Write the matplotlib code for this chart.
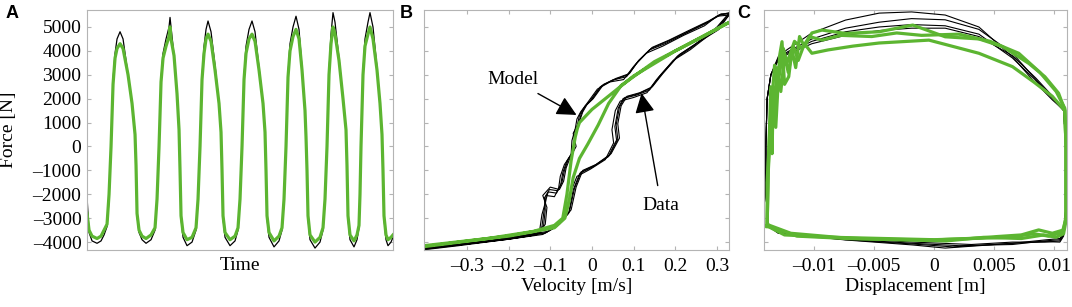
import numpy as np
import matplotlib.pyplot as plt

# ---- panel A: force vs time (time in arbitrary units) ----
t_a = [0, 2, 5, 10, 14, 17, 20, 22, 24, 26, 28, 30, 33, 36, 41, 45, 48, 49, 50, 52, 55, 59,
       64, 68, 70, 72, 74, 76, 79, 82, 83, 84, 87, 90, 92, 93, 94, 96, 100,
       105, 109, 111, 113, 115, 117, 119, 121, 124, 128, 132, 134, 135, 136, 138, 143,
       148, 151, 153, 155, 157, 159, 162, 165, 168, 172, 176, 178, 179, 180, 182, 187,
       192, 195, 197, 199, 201, 203, 206, 209, 212, 215, 218, 219, 220, 221, 223, 228,
       233, 236, 238, 240, 242, 244, 246, 248, 252, 256, 259, 260, 261, 263, 267,
       270, 272, 273, 274, 276, 278, 281, 283, 286, 290, 293, 295, 296, 297, 299, 301, 304, 306]
model_a = [-2800, -3500, -3750, -3850, -3750, -3500, -3250, -2000, 0, 2600, 3700, 4100, 4300, 4100, 3000, 1800, 500, -800, -2800, -3500, -3750, -3850,
           -3700, -3400, -2200, 0, 2700, 3700, 4200, 4600, 5000, 4500, 3800, 2200, 700, -1000, -2900, -3600, -3900,
           -3800, -3400, -2200, 0, 2800, 3900, 4500, 4700, 4400, 3200, 1800, 600, -1000, -2900, -3600, -3900,
           -3750, -3400, -2200, 0, 2800, 3900, 4500, 4700, 4400, 3200, 1800, 600, -1000, -2900, -3600, -3950,
           -3750, -3400, -2200, 0, 2900, 4000, 4600, 4900, 4500, 3200, 1500, 400, -1000, -2900, -3700, -4000,
           -3800, -3400, -2200, 0, 3000, 4300, 5000, 4700, 3600, 2000, 700, -800, -2900, -3700, -3950,
           -3700, -3300, -2000, 0, 3000, 4200, 4700, 5000, 4500, 3200, 1800, 500, -1000, -2900, -3700, -3900, -3800, -3700]
data_a = [-2100, -3600, -3950, -4050, -3950, -3700, -3350, -2200, 0, 2800, 3900, 4500, 4800, 4500, 3000, 1800, 600, -800, -2900, -3600, -3900, -4050,
          -3900, -3500, -2300, 0, 2800, 3900, 4500, 5000, 5400, 5000, 3800, 2200, 700, -1000, -3000, -3800, -4150,
          -4000, -3500, -2300, 0, 2900, 4200, 4900, 5250, 4800, 3400, 1800, 600, -1000, -3000, -3800, -4150,
          -3950, -3500, -2300, 0, 2900, 4200, 4900, 5250, 4800, 3300, 1800, 600, -1000, -3000, -3800, -4200,
          -3950, -3500, -2300, 0, 3000, 4300, 5000, 5450, 4900, 3300, 1500, 400, -1000, -3000, -3900, -4250,
          -4000, -3500, -2300, 0, 3100, 4700, 5600, 5200, 3700, 2000, 700, -800, -3000, -3900, -4200,
          -3900, -3400, -2100, 0, 3100, 4500, 5200, 5600, 5000, 3300, 1800, 500, -1000, -3000, -3900, -4150, -4000, -3800]

# ---- panel B: force vs velocity ----
vel_model = [-0.403, -0.25, -0.14, -0.09, -0.07, -0.06, -0.05, -0.04, -0.035, -0.03, 0.0, 0.10, 0.20, 0.33,
             0.25, 0.15, 0.07, 0.04, 0.015, -0.01, -0.03, -0.045, -0.055, -0.065, -0.09, -0.20, -0.403]
f_model_b = [-4190, -3850, -3550, -3300, -3000, -2000, -600, 400, 750, 1000, 1550, 2950, 4000, 5200,
             4450, 3550, 2550, 1800, 900, 100, -500, -1300, -2300, -3000, -3400, -3750, -4150]

vel_data = [
    [-0.403, -0.30, -0.20, -0.13, -0.12, -0.115, -0.11, -0.105, -0.085, -0.075, -0.07, -0.06, -0.045, -0.04, -0.035, -0.03, -0.02,
     -0.005, 0.02, 0.05, 0.083, 0.107, 0.138, 0.178, 0.226, 0.274, 0.305, 0.33,
     0.30, 0.242, 0.202, 0.162, 0.138, 0.107, 0.075, 0.063, 0.055, 0.059, 0.039, 0.003, -0.029, -0.045, -0.056,
     -0.085, -0.113, -0.197, -0.316, -0.403],
    [-0.403, -0.30, -0.20, -0.125, -0.112, -0.108, -0.118, -0.10, -0.078, -0.068, -0.062, -0.052, -0.038, -0.045, -0.03, -0.022, -0.012,
     0.003, 0.028, 0.058, 0.09, 0.112, 0.145, 0.185, 0.232, 0.28, 0.31, 0.33,
     0.305, 0.25, 0.21, 0.17, 0.145, 0.115, 0.084, 0.07, 0.062, 0.066, 0.046, 0.01, -0.022, -0.038, -0.05,
     -0.078, -0.106, -0.19, -0.31, -0.403],
    [-0.403, -0.30, -0.20, -0.135, -0.125, -0.12, -0.112, -0.11, -0.09, -0.08, -0.076, -0.066, -0.05, -0.048, -0.04, -0.036, -0.027,
     -0.012, 0.013, 0.043, 0.076, 0.1, 0.13, 0.17, 0.22, 0.27, 0.3, 0.33,
     0.295, 0.236, 0.195, 0.155, 0.132, 0.1, 0.068, 0.056, 0.048, 0.052, 0.032, -0.004, -0.036, -0.052, -0.062,
     -0.09, -0.118, -0.2, -0.32, -0.403],
    [-0.403, -0.30, -0.20, -0.128, -0.116, -0.112, -0.114, -0.102, -0.082, -0.072, -0.066, -0.056, -0.042, -0.042, -0.032, -0.026, -0.016,
     -0.001, 0.024, 0.054, 0.086, 0.11, 0.142, 0.182, 0.23, 0.277, 0.308, 0.33,
     0.3, 0.245, 0.205, 0.165, 0.14, 0.11, 0.079, 0.066, 0.058, 0.062, 0.042, 0.006, -0.026, -0.042, -0.054,
     -0.082, -0.11, -0.194, -0.313, -0.403],
]
f_data_b = [
    [-4250, -4050, -3850, -3650, -3350, -2700, -2200, -1900, -1950, -1600, -1100, -600, -200, 400, 900, 1300, 1600,
     1900, 2500, 2780, 2920, 3480, 4040, 4320, 4740, 5150, 5500, 5600,
     5000, 4180, 3700, 2920, 2360, 2150, 2010, 1600, 830, 270, -430, -850, -1120, -1820, -2800,
     -3350, -3630, -3840, -4120, -4300],
    [-4200, -4000, -3800, -3600, -3250, -2550, -2050, -1700, -1800, -1450, -900, -450, 0, 550, 1050, 1450, 1750,
     2000, 2600, 2850, 3050, 3600, 4150, 4450, 4850, 5250, 5550, 5550,
     4900, 4300, 3850, 3050, 2500, 2250, 2100, 1700, 950, 350, -300, -750, -1000, -1700, -2650,
     -3250, -3550, -3800, -4050, -4250],
    [-4270, -4080, -3880, -3700, -3450, -2850, -2350, -2050, -2100, -1750, -1250, -750, -350, 250, 750, 1150, 1450,
     1800, 2400, 2700, 2800, 3350, 3900, 4200, 4650, 5050, 5450, 5500,
     4850, 4050, 3600, 2800, 2250, 2050, 1900, 1500, 700, 150, -550, -950, -1250, -1950, -2900,
     -3400, -3680, -3880, -4150, -4320],
    [-4230, -4030, -3830, -3630, -3300, -2650, -2150, -1800, -1850, -1500, -1000, -500, -100, 450, 950, 1350, 1700,
     1950, 2550, 2800, 3000, 3550, 4100, 4400, 4800, 5200, 5500, 5580,
     4950, 4250, 3780, 3000, 2430, 2200, 2050, 1650, 900, 300, -380, -800, -1060, -1760, -2720,
     -3300, -3600, -3820, -4080, -4280],
]

# ---- panel C: force vs displacement ----
disp_data = [
    [-0.01378, -0.01402, -0.01402, -0.01391, -0.0136, -0.01298, -0.01225, -0.01018, -0.00737, -0.00457, -0.00187, 0.00093, 0.00374, 0.00654,
     0.0082, 0.00986, 0.0108, 0.011, 0.011, 0.0108, 0.01049, 0.00924, 0.00654, 0.00093, -0.00177, -0.00737, -0.01298, -0.01378],
    [-0.01378, -0.01402, -0.01402, -0.01391, -0.0136, -0.01298, -0.01225, -0.01018, -0.00737, -0.00457, -0.00187, 0.00093, 0.00374, 0.00654,
     0.00831, 0.00997, 0.0108, 0.011, 0.011, 0.0108, 0.01049, 0.00924, 0.00654, 0.00208, -0.00177, -0.00737, -0.01298, -0.01378],
    [-0.01378, -0.01402, -0.01402, -0.01391, -0.0136, -0.01298, -0.01225, -0.01018, -0.00737, -0.00457, -0.00187, 0.00093, 0.00374, 0.00654,
     0.00841, 0.00997, 0.0108, 0.011, 0.011, 0.0108, 0.01049, 0.00924, 0.00654, 0.00311, -0.00177, -0.00737, -0.01298, -0.01378],
    [-0.01378, -0.01402, -0.01402, -0.01391, -0.0136, -0.01298, -0.01225, -0.01018, -0.00737, -0.00457, -0.00187, 0.00093, 0.00374, 0.00654,
     0.00851, 0.01007, 0.0108, 0.011, 0.011, 0.0108, 0.01049, 0.00924, 0.00654, 0.00156, -0.00177, -0.00737, -0.01298, -0.01378],
]
f_data_c = [
    [-3350, -2000, 0, 2000, 3000, 3760, 4050, 4750, 5290, 5580, 5630, 5500, 5000, 3750,
     2800, 1950, 1530, 0, -2500, -3600, -3850, -3910, -4050, -4250, -4120, -3910, -3630, -3350],
    [-3350, -2000, 0, 2000, 3000, 3700, 3950, 4500, 4950, 5200, 5350, 5300, 4900, 3900,
     2900, 2000, 1550, 0, -2500, -3650, -3900, -3950, -4100, -4150, -4050, -3880, -3600, -3350],
    [-3300, -2000, 0, 2000, 3000, 3650, 3900, 4400, 4800, 5000, 5100, 5050, 4700, 3700,
     2800, 1950, 1500, 0, -2500, -3700, -3950, -4000, -4000, -4100, -4000, -3850, -3580, -3300],
    [-3300, -2000, 0, 2000, 3000, 3600, 3850, 4300, 4650, 4850, 4950, 4950, 4600, 3800,
     2850, 2000, 1500, 0, -2500, -3750, -4000, -3980, -4050, -4200, -4080, -3900, -3620, -3300],
]

disp_model = [
    [-0.01391, -0.01391, -0.0136, -0.0135, -0.01339, -0.01319, -0.01287, -0.01267, -0.01246, -0.01211, -0.01184, -0.01153, -0.01121, -0.0108,
     -0.01018, -0.00934, -0.00737, -0.00457, -0.00177, 0.00093, 0.00374, 0.00571, 0.00789, 0.00924, 0.01038, 0.0109, 0.011, 0.011,
     0.0108, 0.00986, 0.00872, 0.00727, 0.00519, 0.00374, 0.0, -0.00457, -0.00737, -0.01194, -0.01381, -0.01391],
    [-0.01391, -0.01381, -0.0136, -0.01339, -0.01308, -0.01277, -0.01246, -0.01215, -0.01173, -0.01132, -0.0108, -0.01018, -0.00883,
     -0.00675, -0.00457, -0.00042, 0.00374, 0.00654, 0.00831, 0.00986, 0.0109, 0.011, 0.011,
     0.01069, 0.00955, 0.00831, 0.00623, 0.00311, 0.0, -0.00415, -0.00831, -0.01246, -0.01381, -0.01391],
    [-0.01391, -0.01381, -0.0135, -0.01329, -0.01298, -0.01256, -0.01225, -0.01163, -0.01101, -0.01038, -0.00934, -0.00779,
     -0.00519, -0.00311, -0.00104, 0.00208, 0.00467, 0.00706, 0.00883, 0.01018, 0.0109, 0.011, 0.011,
     0.0108, 0.01018, 0.00914, 0.00727, 0.00415, 0.00104, -0.00311, -0.00727, -0.01142, -0.0137, -0.01391],
]
f_model_c = [
    [-3300, -1500, 1500, -300, 2500, 800, 3800, 4385, 2600, 2920, 4040, 3300, 4600, 4180,
     4750, 4870, 4730, 4800, 5080, 4590, 4500, 4180, 3480, 2920, 2230, 1530, 0, -2930,
     -3490, -3630, -3490, -3700, -3770, -3830, -3910, -3880, -3830, -3630, -3280, -3300],
    [-3350, -800, 2500, 1000, 3300, 2300, 3800, 3100, 4200, 3600, 4300, 3900, 4040,
     4200, 4330, 4450, 3900, 3340, 2700, 2100, 1500, 0, -3000,
     -3600, -3750, -3650, -3800, -3850, -3900, -3850, -3800, -3700, -3350, -3350],
    [-3300, -1000, 2000, 3400, 2700, 4100, 3500, 4400, 4100, 4600, 4450, 4650,
     4600, 4750, 4650, 4700, 4400, 3900, 3100, 2300, 1600, 0, -3100,
     -3650, -3800, -3700, -3850, -3800, -3950, -3900, -3850, -3750, -3350, -3300],
]

yticks = [-4000, -3000, -2000, -1000, 0, 1000, 2000, 3000, 4000, 5000]
ylabels = ['\u20134000', '\u20133000', '\u20132000', '\u20131000', '0', '1000', '2000', '3000', '4000', '5000']
green = '#5cb531'
fs = 14

plt.rcParams['font.family'] = ['Liberation Serif', 'DejaVu Serif']

fig = plt.figure(figsize=(10.72, 3.07), dpi=100)
axA = fig.add_axes([0.0812, 0.1857, 0.2854, 0.7817])
axB = fig.add_axes([0.3955, 0.1857, 0.2850, 0.7817])
axC = fig.add_axes([0.7127, 0.1857, 0.2826, 0.7817])

for ax in (axA, axB, axC):
    for s in ax.spines.values():
        s.set_color('#b4b4b4')
        s.set_linewidth(0.8)
    ax.tick_params(direction='in', length=3, color='#b4b4b4', width=0.8,
                   top=True, right=True, labelsize=fs, pad=6)
    ax.set_ylim(-4330, 5710)
    ax.set_yticks(yticks)

# A
axA.plot(t_a, data_a, color='black', lw=0.9)
axA.plot(t_a, model_a, color=green, lw=2.3)
axA.set_xlim(0, 306)
axA.set_xticks([])
axA.set_yticklabels(ylabels)
axA.tick_params(axis='y', pad=4)
axA.set_xlabel('Time', fontsize=fs, labelpad=5)
axA.set_ylabel('Force [N]', fontsize=fs)
axA.yaxis.set_label_coords(-0.228, 0.5)

# B
for v, f in zip(vel_data, f_data_b):
    axB.plot(v, f, color='black', lw=0.8)
axB.plot(vel_model, f_model_b, color=green, lw=2.3)
axB.set_xlim(-0.403, 0.33)
axB.set_xticks([-0.3, -0.2, -0.1, 0, 0.1, 0.2, 0.3])
axB.set_xticklabels(['\u20130.3', '\u20130.2', '\u20130.1', '0', '0.1', '0.2', '0.3'])
axB.set_yticklabels([])
axB.set_xlabel('Velocity [m/s]', fontsize=fs, labelpad=2)
axB.annotate('Model', xy=(-0.037, 1320), xytext=(-0.19, 2800), fontsize=fs, ha='center', va='center',
             arrowprops=dict(arrowstyle='-|>', mutation_scale=30, color='black', lw=1, shrinkA=4, shrinkB=0))
axB.annotate('Data', xy=(0.119, 2230), xytext=(0.166, -2450), fontsize=fs, ha='center', va='center',
             arrowprops=dict(arrowstyle='-|>', mutation_scale=30, color='black', lw=1, shrinkA=6, shrinkB=0))

# C
for d, f in zip(disp_data, f_data_c):
    axC.plot(d, f, color='black', lw=0.8)
for d, f in zip(disp_model, f_model_c):
    axC.plot(d, f, color=green, lw=2.3)
axC.set_xlim(-0.01417, 0.01108)
axC.set_xticks([-0.01, -0.005, 0, 0.005, 0.01])
axC.set_xticklabels(['\u20130.01', '\u20130.005', '0', '0.005', '0.01'])
axC.set_yticklabels([])
axC.set_xlabel('Displacement [m]', fontsize=fs, labelpad=2)

for lbl, x in (('A', 0.005), ('B', 0.373), ('C', 0.6875)):
    fig.text(x, 0.985, lbl, fontsize=13, fontweight='bold', family=['Liberation Sans', 'DejaVu Sans'],
             ha='left', va='top')

fig.savefig('out.png', dpi=100)
